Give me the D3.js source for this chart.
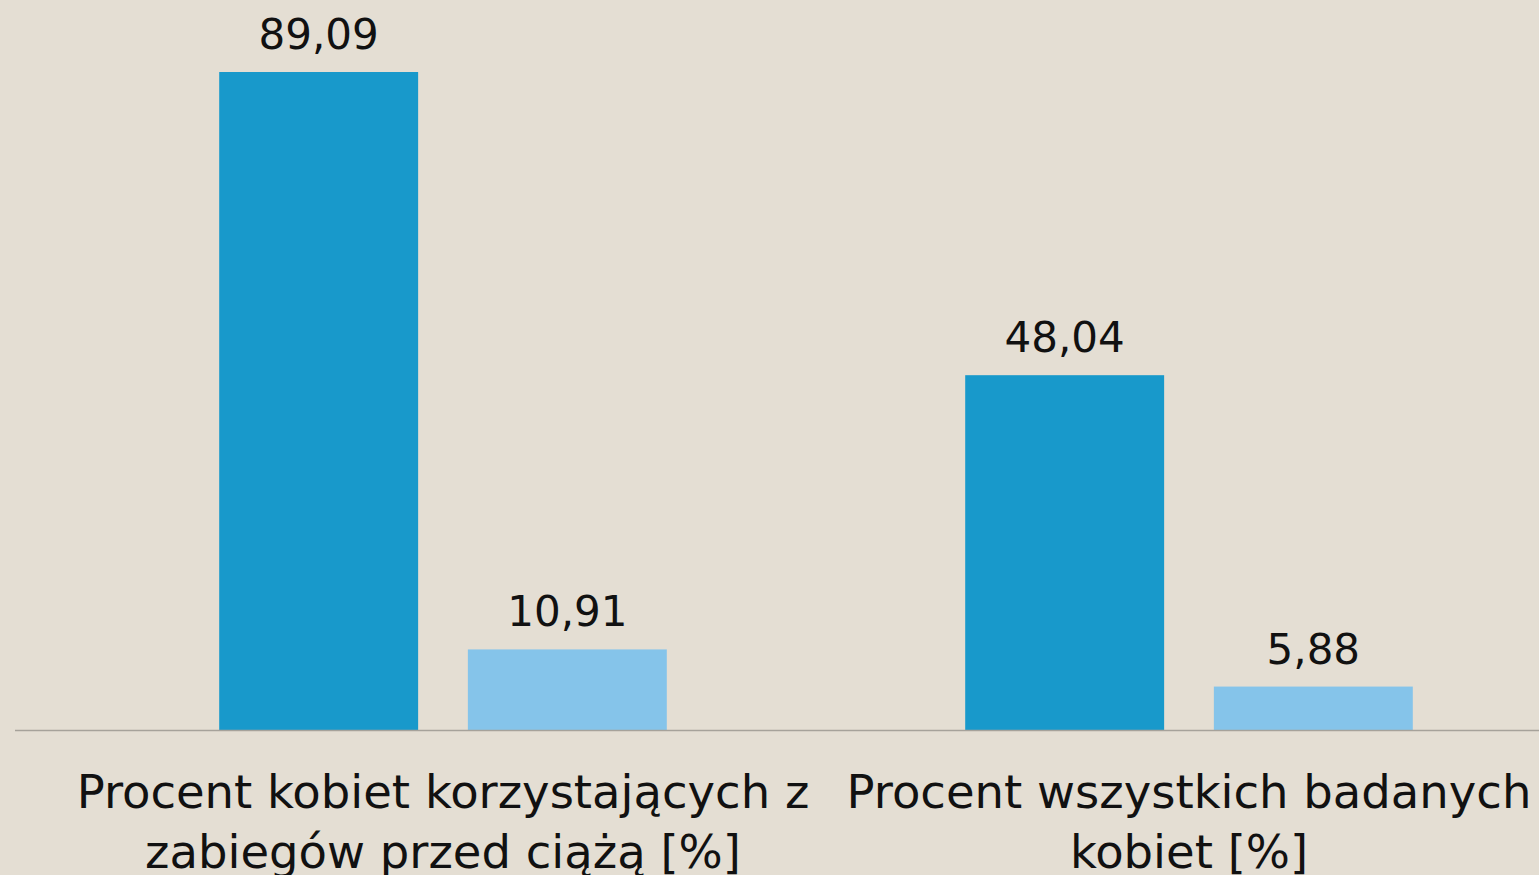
<!DOCTYPE html>
<html>
<head>
<meta charset="utf-8">
<script src="https://cdn.jsdelivr.net/npm/d3@7"></script>
<style>
  html, body { margin: 0; padding: 0; background: #e4ded3; overflow: hidden; }
  svg { display: block; }
  text { font-family: "DejaVu Sans", sans-serif; fill: #111; }
</style>
</head>
<body>
<div id="chart"></div>
<script>
// data
const categories = [
  ["Procent kobiet korzystających z", "zabiegów przed ciążą [%]"],
  ["Procent wszystkich badanych", "kobiet [%]"]
];
const seriesNames = ["seria 1", "seria 2"];
const seriesOne = [89.09, 48.04];
const seriesTwo = [10.91, 5.88];
const seriesColors = ["#1899cb", "#85c4ea"];

const width = 1539, height = 875;
const baseline = 730;

const svg = d3.select("#chart")
  .append("svg")
  .attr("width", width)
  .attr("height", height);

svg.append("rect")
  .attr("width", width)
  .attr("height", height)
  .attr("fill", "#e4ded3");

const rows = categories.map((c, i) => ({
  key: i,
  lines: c,
  values: [seriesOne[i], seriesTwo[i]]
}));

const x0 = d3.scaleBand()
  .domain(rows.map(d => d.key))
  .range([70, 1562])
  .padding(0);

const x1 = d3.scaleBand()
  .domain(seriesNames)
  .range([0, x0.bandwidth()])
  .paddingInner(0.2)
  .paddingOuter(0.6);

const y = d3.scaleLinear()
  .domain([0, 98.84])
  .range([baseline, 0]);

const color = d3.scaleOrdinal(seriesNames, seriesColors);
const fmt = d3.formatLocale({decimal: ",", thousands: " ", grouping: [3], currency: ["", ""]}).format(".2f");

const groups = svg.selectAll("g.group")
  .data(rows)
  .enter()
  .append("g")
  .attr("class", "group")
  .attr("transform", d => `translate(${x0(d.key)},0)`);

const bars = groups.selectAll("g.bar")
  .data(d => d.values.map((v, j) => ({name: seriesNames[j], value: v})))
  .enter()
  .append("g")
  .attr("class", "bar");

bars.append("rect")
  .attr("x", d => x1(d.name))
  .attr("y", d => y(d.value))
  .attr("width", x1.bandwidth())
  .attr("height", d => baseline - y(d.value))
  .attr("fill", d => color(d.name));

bars.append("text")
  .attr("x", d => x1(d.name) + x1.bandwidth() / 2)
  .attr("y", d => y(d.value) - 23)
  .attr("text-anchor", "middle")
  .style("font-size", "42px")
  .text(d => fmt(d.value));

// axis line
svg.append("line")
  .attr("x1", 15)
  .attr("x2", width)
  .attr("y1", baseline + 0.5)
  .attr("y2", baseline + 0.5)
  .attr("stroke", "#a6a29a")
  .attr("stroke-width", 1.5);

// category labels (second line runs off the bottom edge, as in the original)
const labels = groups.append("text")
  .attr("text-anchor", "middle")
  .style("font-size", "46.5px");

labels.selectAll("tspan")
  .data(d => d.lines)
  .enter()
  .append("tspan")
  .attr("x", x0.bandwidth() / 2)
  .attr("y", (d, i) => 808 + i * 60)
  .text(d => d);
</script>
</body>
</html>
